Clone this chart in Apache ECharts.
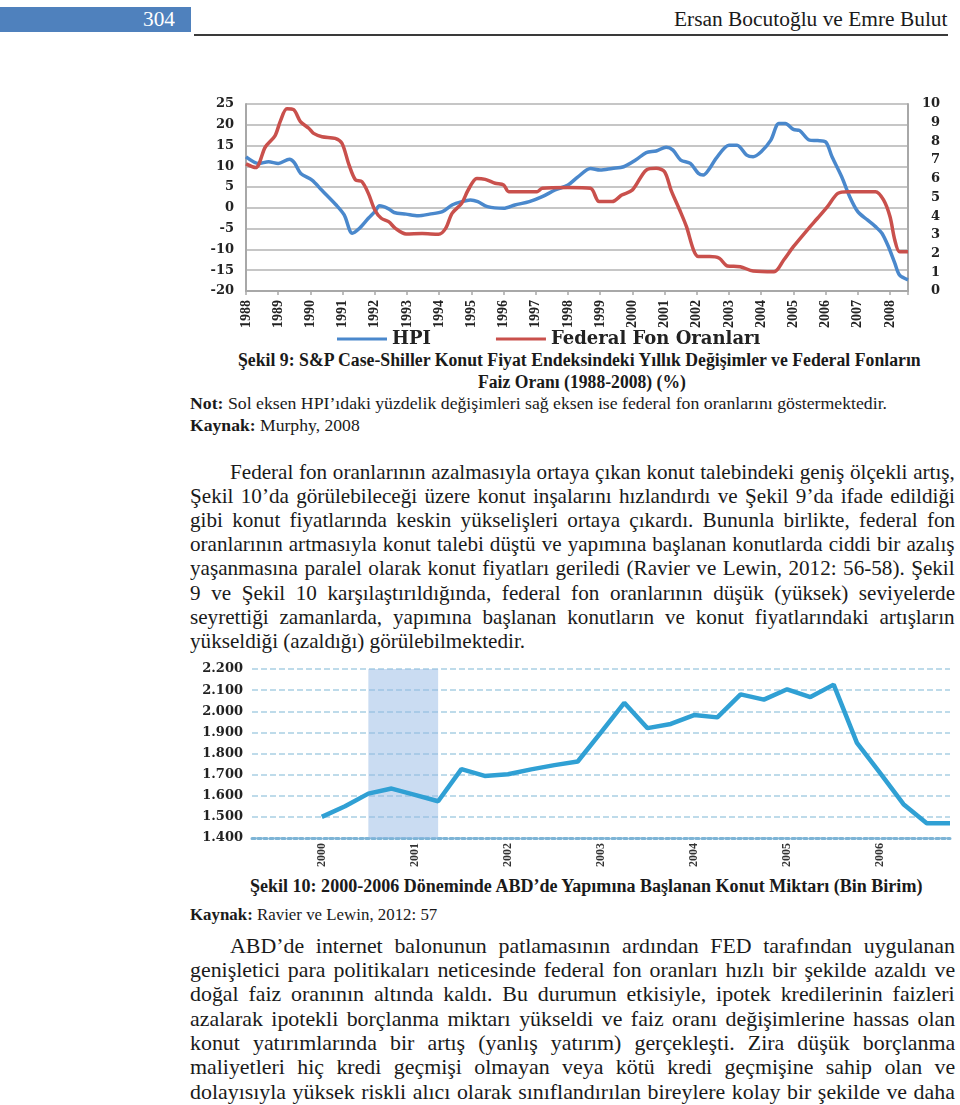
<!DOCTYPE html>
<html lang="tr">
<head>
<meta charset="utf-8">
<title>Şekil 9 ve Şekil 10</title>
<script src="https://cdn.jsdelivr.net/npm/echarts@6.0.0/dist/echarts.min.js"></script>
<style>
html, body { margin: 0; padding: 0; background: #fff; }
body { width: 960px; height: 1105px; position: relative; overflow: hidden;
  font-family: 'Liberation Serif', 'Times New Roman', serif; color: #1a1a1a; }
.ln { position: absolute; white-space: nowrap; transform-origin: 0 0; }
#pageBar { position: absolute; left: 0; top: 7px; width: 191px; height: 25px; background: #4f81bd; }
#rule { position: absolute; left: 194px; top: 34px; width: 754px; height: 2px; background: #3a3a3a; }
#chart1 { position: absolute; left: 190px; top: 88px; width: 770px; height: 260px; }
#chart2 { position: absolute; left: 190px; top: 655px; width: 770px; height: 215px; }
</style>
</head>
<body>
<div id="pageBar"></div>
<div id="rule"></div>
<div id="chart1"></div>
<div id="chart2"></div>
<script>
// Şekil 9 - HPI yıllık değişim (%) ve federal fon oranı (%)
var hpiX = [1988.0, 1988.4, 1988.7, 1989.0, 1989.35, 1989.5, 1989.7, 1990.05, 1990.35, 1990.8,
  1991.05, 1991.3, 1991.5, 1991.8, 1992.0, 1992.15, 1992.4, 1992.6, 1992.97, 1993.35,
  1993.7, 1994.1, 1994.4, 1994.7, 1994.97, 1995.2, 1995.5, 1996.0, 1996.35, 1996.8,
  1997.2, 1997.6, 1998.0, 1998.3, 1998.7, 1999.0, 1999.37, 1999.73, 2000.1, 2000.43,
  2000.74, 2001.05, 2001.26, 2001.5, 2001.8, 2002.05, 2002.2, 2002.4, 2002.6, 2003.0,
  2003.25, 2003.55, 2003.75, 2004.0, 2004.3, 2004.55, 2004.75, 2005.0, 2005.2, 2005.5,
  2005.75, 2006.0, 2006.2, 2006.5, 2006.75, 2007.0, 2007.3, 2007.55, 2007.75, 2007.95,
  2008.15, 2008.3, 2008.56];
var hpiY = [12.3, 10.7, 11.1, 10.7, 11.7, 10.9, 8.3, 6.7, 4.3, 0.7,
  -1.7, -6.1, -5.1, -2.5, -0.9, 0.5, -0.1, -1.1, -1.5, -1.9,
  -1.5, -0.9, 0.7, 1.5, 1.9, 1.5, 0.3, -0.1, 0.7, 1.5,
  2.7, 4.3, 5.5, 7.4, 9.5, 9.1, 9.5, 9.9, 11.5, 13.3,
  13.7, 14.6, 13.9, 11.5, 10.7, 8.3, 7.9, 9.5, 11.9, 15.1,
  15.1, 12.7, 12.3, 13.5, 16.3, 20.3, 20.3, 18.9, 18.6, 16.3,
  16.2, 15.9, 12.3, 7.5, 2.7, -0.9, -2.9, -4.5, -6.1, -9.3,
  -13.3, -16.2, -17.3];
var fedX = [1988.0, 1988.3, 1988.6, 1988.9, 1989.07, 1989.27, 1989.48, 1989.69, 1989.95, 1990.1,
  1990.36, 1990.77, 1990.98, 1991.2, 1991.4, 1991.6, 1991.8, 1992.0, 1992.2, 1992.43,
  1992.64, 1992.97, 1993.47, 1993.98, 1994.2, 1994.4, 1994.7, 1994.9, 1995.17, 1995.43,
  1995.74, 1996.0, 1996.16, 1996.57, 1997.04, 1997.2, 1998.0, 1998.7, 1998.97, 1999.37,
  1999.67, 2000.0, 2000.43, 2000.74, 2001.0, 2001.2, 2001.47, 2001.68, 2001.9, 2002.05,
  2002.4, 2002.7, 2002.95, 2003.35, 2003.75, 2004.4, 2004.7, 2005.0, 2005.43, 2005.75,
  2006.06, 2006.38, 2006.7, 2007.1, 2007.55, 2007.8, 2008.0, 2008.15, 2008.3, 2008.56];
var fedY = [6.8, 6.6, 7.7, 8.3, 9.1, 9.75, 9.7, 9.06, 8.7, 8.43,
  8.25, 8.16, 7.9, 6.74, 5.94, 5.85, 5.22, 4.33, 3.89, 3.71,
  3.35, 3.05, 3.08, 3.03, 3.35, 4.15, 4.69, 5.4, 6.02, 5.97,
  5.76, 5.67, 5.31, 5.31, 5.31, 5.49, 5.54, 5.49, 4.78, 4.78,
  5.13, 5.4, 6.47, 6.56, 6.38, 5.4, 4.33, 3.44, 2.19, 1.84,
  1.84, 1.75, 1.34, 1.3, 1.07, 1.03, 1.66, 2.37, 3.26, 3.89,
  4.51, 5.22, 5.31, 5.31, 5.31, 4.87, 3.98, 2.73, 2.1, 2.1];

// Şekil 10 - yapımına başlanan konut (bin birim), çeyreklik
var quarterX = [2000, 2000.25, 2000.5, 2000.75, 2001, 2001.25, 2001.5, 2001.75,
  2002, 2002.25, 2002.5, 2002.75, 2003, 2003.25, 2003.5, 2003.75,
  2004, 2004.25, 2004.5, 2004.75, 2005, 2005.25, 2005.5, 2005.75,
  2006, 2006.25, 2006.5, 2006.75];
var starts = [1500, 1550, 1610, 1634, 1604, 1574, 1726, 1694,
  1702, 1725, 1745, 1762, 1900, 2040, 1920, 1940,
  1982, 1971, 2080, 2055, 2104, 2067, 2126, 1850,
  1707, 1560, 1470, 1470];
var startsYears = [2000, 2001, 2002, 2003, 2004, 2005, 2006];
var recessionBand = [2000.5, 2001.25];

function pairs(xs, ys) {
  return xs.map(function (x, i) { return [x, ys[i]]; });
}

var blue = '#4a88cc';
var red = '#c9504c';
var axisGray = '#a8a8a8';

var chart1 = echarts.init(document.getElementById('chart1'));
chart1.setOption({
  animation: false,
  grid: { left: 56, right: 52, top: 16, bottom: 57 },
  legend: {
    left: 142, top: 237,
    icon: 'rect', itemWidth: 50, itemHeight: 3, itemGap: 65,
    textStyle: { fontFamily: 'DejaVu Serif', fontWeight: 'bold', fontSize: 18, color: '#222' },
    data: ['HPI', 'Federal Fon Oranları']
  },
  xAxis: {
    type: 'value', min: 1988, max: 2008.56, interval: 1,
    axisLine: { onZero: false, lineStyle: { color: axisGray, width: 2 } },
    axisTick: { length: 4, lineStyle: { color: axisGray, width: 1.5 } },
    splitLine: { show: false },
    axisLabel: {
      rotate: 90, margin: 9,
      fontFamily: 'Liberation Serif', fontWeight: 'bold', fontSize: 14, color: '#222',
      formatter: function (v) { return v % 1 === 0 ? String(v) : ''; }
    }
  },
  yAxis: [{
    type: 'value', min: -20, max: 25, interval: 5, position: 'left',
    axisLine: { show: true, lineStyle: { color: axisGray, width: 2 } },
    axisTick: { show: false },
    splitLine: { lineStyle: { color: '#c6c6c6', width: 2 } },
    axisLabel: { margin: 12, fontFamily: 'DejaVu Serif', fontWeight: 'bold', fontSize: 13, color: '#222' }
  }, {
    type: 'value', min: 0, max: 10, interval: 1, position: 'right',
    axisLine: { show: true, lineStyle: { color: axisGray, width: 2 } },
    axisTick: { show: false },
    splitLine: { show: false },
    axisLabel: { align: 'right', margin: 32, fontFamily: 'DejaVu Serif', fontWeight: 'bold', fontSize: 13, color: '#222' }
  }],
  series: [{
    name: 'HPI', type: 'line', yAxisIndex: 0, smooth: 0.3, showSymbol: false,
    itemStyle: { color: blue }, lineStyle: { color: blue, width: 3.5 },
    data: pairs(hpiX, hpiY)
  }, {
    name: 'Federal Fon Oranları', type: 'line', yAxisIndex: 1, smooth: 0.3, showSymbol: false,
    itemStyle: { color: red }, lineStyle: { color: red, width: 3.5 },
    data: pairs(fedX, fedY)
  }]
});

var chart2 = echarts.init(document.getElementById('chart2'));
chart2.setOption({
  animation: false,
  grid: { left: 62, right: 10, top: 14, bottom: 32 },
  xAxis: {
    type: 'value', min: 1999.25, max: 2006.75,
    axisLine: { onZero: false, lineStyle: { color: '#7db4d6', width: 3, type: 'dotted' } },
    axisTick: { show: false },
    splitLine: { show: false },
    axisLabel: {
      customValues: startsYears, rotate: 90, margin: 5,
      fontFamily: 'Liberation Serif', fontWeight: 'bold', fontSize: 12, color: '#333',
      formatter: function (v) { return String(v); }
    }
  },
  yAxis: {
    type: 'value', min: 1400, max: 2200, interval: 100,
    axisLine: { show: false }, axisTick: { show: false },
    splitLine: { lineStyle: { color: '#a9cfe3', width: 1.5, type: 'dashed' } },
    axisLabel: {
      margin: 9, fontFamily: 'DejaVu Serif', fontWeight: 'bold', fontSize: 13, color: '#222',
      formatter: function (v) { return (v / 1000).toFixed(3); }
    }
  },
  series: [{
    type: 'line', showSymbol: false,
    lineStyle: { color: '#30a0d4', width: 4.5 },
    data: pairs(quarterX, starts),
    markArea: {
      silent: true,
      itemStyle: { color: 'rgba(150,185,230,0.5)' },
      data: [[{ xAxis: recessionBand[0] }, { xAxis: recessionBand[1] }]]
    }
  }]
});

// sayfa metni
function addLine(html, size, bold, baseline, color) {
  var d = document.createElement('div');
  d.className = 'ln';
  var lh = Math.round(size * 1.2);
  d.style.fontSize = size + 'px';
  d.style.lineHeight = lh + 'px';
  if (bold) d.style.fontWeight = 'bold';
  if (color) d.style.color = color;
  d.innerHTML = html;
  document.body.appendChild(d);
  d.style.top = (baseline - ((lh - 1.107 * size) / 2 + 0.891 * size)) + 'px';
  return d;
}
function fit(d, x0, x1) {
  var w = d.offsetWidth;
  d.style.left = x0 + 'px';
  d.style.transform = 'scaleX(' + ((x1 - x0) / w) + ')';
}
function paragraph(lines, firstBase, step, size, left, right, indent, lastJustified) {
  var divs = lines.map(function (t, i) {
    var d = addLine(t, size, false, firstBase + i * step);
    d.style.left = (i === 0 ? left + indent : left) + 'px';
    return d;
  });
  var k = 1;
  divs.forEach(function (d, i) {
    if (i < lines.length - 1 || lastJustified) {
      var t = right - (i === 0 ? left + indent : left);
      k = Math.min(k, t / d.offsetWidth);
    }
  });
  k *= 0.995;
  divs.forEach(function (d, i) {
    d.style.transform = 'scaleX(' + k + ')';
    if (i < lines.length - 1 || lastJustified) {
      var t = right - (i === 0 ? left + indent : left);
      var n = (lines[i].match(/ /g) || []).length;
      var extra = t / k - d.offsetWidth;
      if (n > 0) d.style.wordSpacing = (extra / n) + 'px';
    }
  });
}

fit(addLine('304', 20, false, 26, '#fff'), 143, 175);
fit(addLine('Ersan Bocutoğlu ve Emre Bulut', 20, false, 26), 674, 948);

fit(addLine('Şekil 9: S&amp;P Case-Shiller Konut Fiyat Endeksindeki Yıllık Değişimler ve Federal Fonların', 18, true, 366), 237.5, 920);
fit(addLine('Faiz Oranı (1988-2008) (%)', 18, true, 388), 477.5, 685);
fit(addLine('<b>Not:</b> Sol eksen HPI’ıdaki yüzdelik değişimleri sağ eksen ise federal fon oranlarını göstermektedir.', 17, false, 410), 190, 887);
fit(addLine('<b>Kaynak:</b> Murphy, 2008', 17, false, 432), 190, 360);

paragraph([
  'Federal fon oranlarının azalmasıyla ortaya çıkan konut talebindeki geniş ölçekli artış,',
  'Şekil 10’da görülebileceği üzere konut inşalarını hızlandırdı ve Şekil 9’da ifade edildiği',
  'gibi konut fiyatlarında keskin yükselişleri ortaya çıkardı. Bununla birlikte, federal fon',
  'oranlarının artmasıyla konut talebi düştü ve yapımına başlanan konutlarda ciddi bir azalış',
  'yaşanmasına paralel olarak konut fiyatları geriledi (Ravier ve Lewin, 2012: 56-58). Şekil',
  '9 ve Şekil 10 karşılaştırıldığında, federal fon oranlarının düşük (yüksek) seviyelerde',
  'seyrettiği zamanlarda, yapımına başlanan konutların ve konut fiyatlarındaki artışların',
  'yükseldiği (azaldığı) görülebilmektedir.'
], 479, 24.2, 22, 190, 955, 40, false);

fit(addLine('Şekil 10: 2000-2006 Döneminde ABD’de Yapımına Başlanan Konut Miktarı (Bin Birim)', 18, true, 892), 250, 922);
fit(addLine('<b>Kaynak:</b> Ravier ve Lewin, 2012: 57', 17, false, 921), 190, 437);

paragraph([
  'ABD’de internet balonunun patlamasının ardından FED tarafından uygulanan',
  'genişletici para politikaları neticesinde federal fon oranları hızlı bir şekilde azaldı ve',
  'doğal faiz oranının altında kaldı. Bu durumun etkisiyle, ipotek kredilerinin faizleri',
  'azalarak ipotekli borçlanma miktarı yükseldi ve faiz oranı değişimlerine hassas olan',
  'konut yatırımlarında bir artış (yanlış yatırım) gerçekleşti. Zira düşük borçlanma',
  'maliyetleri hiç kredi geçmişi olmayan veya kötü kredi geçmişine sahip olan ve',
  'dolayısıyla yüksek riskli alıcı olarak sınıflandırılan bireylere kolay bir şekilde ve daha'
], 953.3, 24.3, 22, 190, 955, 40, true);
</script>
</body>
</html>
